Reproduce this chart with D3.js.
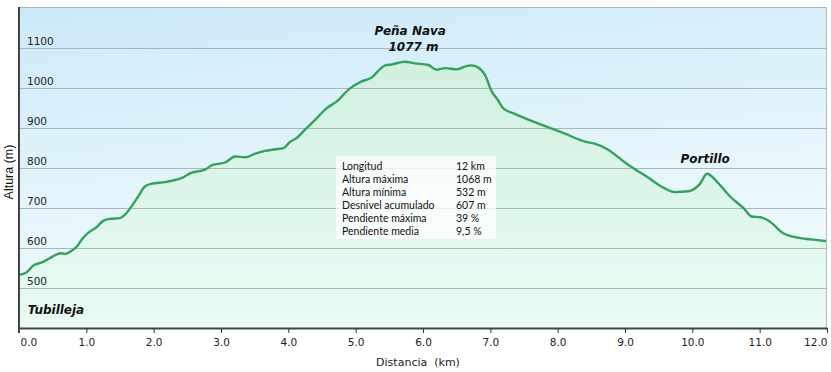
<!DOCTYPE html>
<html>
<head>
<meta charset="utf-8">
<script src="https://cdn.jsdelivr.net/npm/d3@7"></script>
<style>
  html, body { margin: 0; padding: 0; background: #fff; }
  svg { display: block; }
</style>
</head>
<body>
<svg id="chart"></svg>
<script>
// distance (km) along the track
const distances = [0.00, 0.11, 0.21, 0.34, 0.46, 0.57, 0.63, 0.68, 0.76, 0.86, 0.93, 1.05, 1.15, 1.25, 1.35, 1.50,
  1.57, 1.67, 1.77, 1.87, 1.97, 2.17, 2.34, 2.44, 2.54, 2.76, 2.86, 3.06, 3.21, 3.36, 3.51, 3.65, 3.80, 3.93,
  4.02, 4.12, 4.27, 4.40, 4.57, 4.72, 4.92, 5.09, 5.24, 5.34, 5.44, 5.53, 5.73, 5.88, 6.08, 6.20, 6.33, 6.50,
  6.62, 6.72, 6.85, 6.92, 7.02, 7.11, 7.19, 7.37, 7.61, 7.86, 8.11, 8.41, 8.55, 8.75, 9.00, 9.12, 9.32, 9.52,
  9.74, 9.94, 10.11, 10.22, 10.36, 10.56, 10.76, 10.88, 11.01, 11.13, 11.35, 11.60, 11.80, 12.00]
// altitude (m)
const elevations = [533, 539, 556, 564, 575, 585, 587, 585, 591, 604, 621, 641, 652, 668, 673, 675,
  683, 704, 729, 754, 761, 765, 771, 777, 787, 796, 807, 814, 829, 827, 836, 843, 847, 850,
  865, 875, 900, 921, 950, 967, 1000, 1017, 1027, 1044, 1057, 1059, 1066, 1062, 1058, 1046, 1050, 1047,
  1054, 1057, 1048, 1033, 992, 971, 950, 935, 918, 902, 886, 866, 861, 846, 814, 800, 779, 756,
  740, 742, 760, 786, 767, 729, 700, 679, 677, 669, 637, 625, 621, 617]

const xTicks = [0, 1, 2, 3, 4, 5, 6, 7, 8, 9, 10, 11, 12]
const yTicks = [500, 600, 700, 800, 900, 1000, 1100]

// place names with the km / altitude where they are written
const placeNames = ["Peña Nava", "1077 m", "Portillo", "Tubilleja"]
const placeKm = [5.81, 5.86, 10.19, 0.13]
const placeAlt = [1133, 1093, 813, 435]

const statLabels = ["Longitud", "Altura máxima", "Altura mínima", "Desnivel acumulado", "Pendiente máxima", "Pendiente media"]
const statValues = ["12 km", "1068 m", "532 m", "607 m", "39 %", "9,5 %"]

const W = 831, H = 372
const margin = {top: 7, right: 4, bottom: 44, left: 19}
const plotW = W - margin.left - margin.right
const plotH = H - margin.top - margin.bottom

const data = distances.map((d, i) => ({d: d, e: elevations[i]}))

const svg = d3.select("#chart").attr("width", W).attr("height", H)

const defs = svg.append("defs")
const bg = defs.append("linearGradient").attr("id", "bg").attr("x1", 0).attr("y1", 0).attr("x2", 0.25).attr("y2", 1)
bg.append("stop").attr("offset", "0%").attr("stop-color", "#cbeaf8")
bg.append("stop").attr("offset", "55%").attr("stop-color", "#e3f4fb")
bg.append("stop").attr("offset", "100%").attr("stop-color", "#f1fbfb")

const ag = defs.append("linearGradient").attr("id", "area").attr("x1", 0).attr("y1", 0).attr("x2", 0).attr("y2", 1)
ag.append("stop").attr("offset", "0%").attr("stop-color", "#d2f0df")
ag.append("stop").attr("offset", "100%").attr("stop-color", "#e9fbf3")

const x = d3.scaleLinear().domain([0, 12]).range([margin.left, margin.left + plotW])
const y = d3.scaleLinear().domain([400, 1203]).range([margin.top + plotH, margin.top])

// plot background
svg.append("rect")
  .attr("x", margin.left).attr("y", margin.top)
  .attr("width", plotW).attr("height", plotH)
  .attr("fill", "url(#bg)")

// area under profile
svg.append("path")
  .datum(data)
  .attr("fill", "url(#area)")
  .attr("d", d3.area().x(d => x(d.d)).y0(y(400)).y1(d => y(d.e)).curve(d3.curveMonotoneX))

// horizontal grid
svg.append("g")
  .selectAll("line")
  .data(yTicks)
  .join("line")
  .attr("x1", margin.left).attr("x2", margin.left + plotW)
  .attr("y1", d => Math.round(y(d)) + 0.5).attr("y2", d => Math.round(y(d)) + 0.5)
  .attr("stroke", "#a8b6bd").attr("stroke-width", 1)

// y labels inside the plot
svg.append("g")
  .selectAll("text")
  .data(yTicks)
  .join("text")
  .attr("x", 27)
  .attr("y", d => y(d) - 3.5)
  .attr("font-family", "DejaVu Sans, Verdana, sans-serif")
  .attr("font-size", "10.5px")
  .attr("fill", "#222")
  .text(d => d)

// profile line
svg.append("path")
  .datum(data)
  .attr("fill", "none")
  .attr("stroke", "#30a45c")
  .attr("stroke-width", 2.4)
  .attr("stroke-linejoin", "round")
  .attr("d", d3.line().x(d => x(d.d)).y(d => y(d.e)).curve(d3.curveMonotoneX))

// frame: top + right light, left + bottom dark
svg.append("line")
  .attr("x1", margin.left).attr("x2", margin.left + plotW)
  .attr("y1", margin.top + 0.5).attr("y2", margin.top + 0.5)
  .attr("stroke", "#aab4ba")
svg.append("line")
  .attr("x1", margin.left + plotW - 0.5).attr("x2", margin.left + plotW - 0.5)
  .attr("y1", margin.top).attr("y2", margin.top + plotH)
  .attr("stroke", "#b4bcc2")

// stats box
const box = svg.append("g")
box.append("rect")
  .attr("x", 336).attr("y", 156).attr("width", 160).attr("height", 83)
  .attr("fill", "#ffffff").attr("fill-opacity", 0.75)
box.selectAll("text.lab")
  .data(statLabels)
  .join("text")
  .attr("class", "lab")
  .attr("x", 342)
  .attr("y", (d, i) => 170 + i * 13)
  .attr("font-family", "Lato, sans-serif")
  .attr("font-size", "10.5px")
  .attr("fill", "#111")
  .text(d => d)
box.selectAll("text.val")
  .data(statValues)
  .join("text")
  .attr("class", "val")
  .attr("x", 456)
  .attr("y", (d, i) => 170 + i * 13)
  .attr("font-family", "Lato, sans-serif")
  .attr("font-size", "10.5px")
  .attr("fill", "#111")
  .text(d => d)

// place names
svg.append("g")
  .selectAll("text")
  .data(placeNames)
  .join("text")
  .attr("x", (d, i) => x(placeKm[i]))
  .attr("y", (d, i) => y(placeAlt[i]))
  .attr("text-anchor", (d, i) => i === 3 ? "start" : "middle")
  .attr("font-family", "DejaVu Sans, Verdana, sans-serif")
  .attr("font-size", "12px")
  .attr("font-weight", "bold")
  .attr("font-style", "italic")
  .attr("fill", "#111")
  .text(d => d)

// x axis
const xAxis = svg.append("g")
  .attr("transform", `translate(0, ${margin.top + plotH})`)
  .call(d3.axisBottom(x).tickValues(xTicks).tickFormat(d3.format(".1f")).tickSize(5).tickSizeOuter(0).tickPadding(6))
xAxis.select(".domain").attr("stroke", "#444").attr("stroke-width", 2)
xAxis.selectAll(".tick line").attr("stroke", "#333")
xAxis.selectAll(".tick text")
  .attr("font-family", "DejaVu Sans, Verdana, sans-serif")
  .attr("font-size", "10.5px")
  .attr("fill", "#222")
  .attr("text-anchor", d => d === 0 ? "start" : d === 12 ? "end" : "middle")
  .attr("dx", d => d === 0 ? 1 : 0)

// y axis line
svg.append("line")
  .attr("x1", margin.left).attr("x2", margin.left)
  .attr("y1", margin.top).attr("y2", margin.top + plotH + 5)
  .attr("stroke", "#444").attr("stroke-width", 2)

// axis titles
svg.append("text")
  .attr("transform", `translate(13, ${margin.top + 165}) rotate(-90)`)
  .attr("text-anchor", "middle")
  .attr("font-family", "Liberation Sans, Arial, sans-serif")
  .attr("font-size", "12.5px")
  .attr("fill", "#111")
  .text("Altura (m)")

svg.append("text")
  .attr("x", 418).attr("y", 366)
  .attr("text-anchor", "middle")
  .attr("font-family", "DejaVu Sans, Verdana, sans-serif")
  .attr("font-size", "11px")
  .attr("fill", "#222")
  .attr("xml:space", "preserve")
  .text("Distancia  (km)")
</script>
</body>
</html>
